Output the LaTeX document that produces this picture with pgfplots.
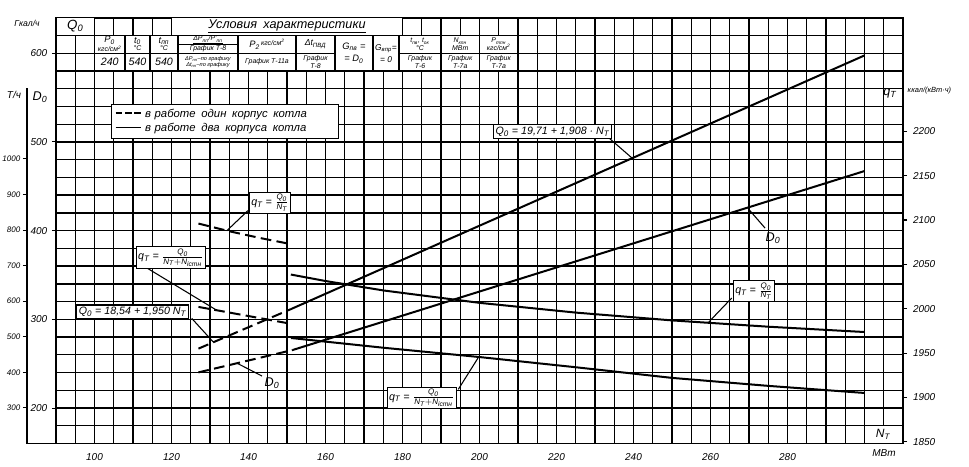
\documentclass[border=0pt]{standalone}
\usepackage{pgfplots}
\pgfplotsset{compat=1.18}
\usepackage{fontspec}
\usepackage{amsmath}
\setmainfont{Liberation Sans}
\tikzset{
  dline/.style={black, line width=1.5pt},
  dashline/.style={black, line width=1.5pt, dash pattern=on 8pt off 4pt},
  lbl/.style={draw=black, fill=white, line width=0.8pt, inner sep=1.5pt, font=\itshape\fontsize{8}{9}\selectfont},
  leader/.style={black, line width=0.8pt},
  cell/.style={fill=white, draw=black, line width=0.9pt},
  tc/.style={align=center, inner sep=0pt, font=\itshape\fontsize{5.2}{5.6}\selectfont},
  tcs/.style={align=center, inner sep=0pt, font=\itshape\fontsize{4.2}{4.7}\selectfont},
}
\pgfplotsset{
  base/.style={scale only axis, width=635.25pt, height=319.35pt,
    at={(0,0)}, anchor=south west, xmin=90, xmax=310,
    /pgf/number format/assume math mode=true,
    /pgf/number format/1000 sep={},
    tick label style={font=\itshape\fontsize{7.5}{9}\selectfont},
  },
}
\begin{document}
\begin{tikzpicture}[font=\itshape]
% ---------- main axis: Q0, Gcal/h ----------
\begin{axis}[base, name=main,
  ymin=160, ymax=640,
  xtick={100,120,...,280},
  ytick={200,300,...,600},
  minor xtick={90,95,...,310},
  minor ytick={160,180,...,640},
  grid=minor,
  minor grid style={black, line width=1pt},
  axis line style={black, line width=1.3pt},
  xtick style={draw=none},
  minor tick length=0pt,
  ytick style={black, line width=0.8pt},
  ytick pos=left,
  tick align=outside, major tick length=3pt,
  xticklabel style={yshift=-1pt},
]
\addplot[dline] coordinates {(151,311.5) (300,597.5)};
\addplot[dashline] coordinates {(127,267) (151,311.5)};
\end{axis}
% ---------- q_T axis, kcal/(kW h) ----------
\begin{axis}[base, ymin=1848, ymax=2328,
  axis x line=none, axis y line*=right,
  axis line style={-, black, line width=1.3pt},
  ytick={1850,1900,...,2200},
  tick align=outside, major tick length=3pt,
  ytick style={black, line width=0.8pt},
  yticklabel style={xshift=1pt},
]
\addplot[dline] coordinates {(151,2038.5) (160,2031.2) (175,2020.6) (200,2006.6) (225,1995.6) (250,1986.8) (275,1979.7) (300,1973.7)};
\addplot[dashline] coordinates {(127,2096.0) (135,2087.3) (143,2079.7) (151,2072.8)};
\addplot[dline] coordinates {(151,1967) (175,1956) (200,1945.5) (225,1934) (250,1922) (275,1913) (300,1905)};
\addplot[dashline] coordinates {(127,2002) (151,1983)};
\end{axis}
% ---------- D0 data axis, t/h ----------
\begin{axis}[base, ymin=200, ymax=1397, hide axis]
\addplot[dline] coordinates {(151.5,463) (300,966)};
\addplot[dashline] coordinates {(127,400) (151.5,463)};
\end{axis}
% ---------- D0 scale display ----------
\begin{axis}[scale only axis, width=21.75pt, height=266.8pt,
  at={(main.south west)}, anchor=south east,
  xmin=0, xmax=1, ymin=200, ymax=1200,
  axis x line*=bottom, axis y line*=left,
  axis line style={-, black, line width=1.3pt},
  xtick=\empty, ytick={300,400,...,1000},
  tick align=outside, major tick length=3pt,
  ytick style={black, line width=0.8pt},
  /pgf/number format/assume math mode=true,
  /pgf/number format/1000 sep={},
  tick label style={font=\itshape\fontsize{6}{7}\selectfont},
  yticklabel style={xshift=1.5pt},
]
\end{axis}
% ---------- annotations (pixel frame) ----------
\begin{axis}[base, xmin=56, xmax=903, ymin=17.7, ymax=443.5, y dir=reverse, hide axis, clip=false]
% header table
\filldraw[cell] (axis cs:56,17.7) rectangle (axis cs:94.5,35.4);
\node at (axis cs:75.25,26.5) {\fontsize{10}{10}\selectfont Q\textsubscript{0}};
\filldraw[cell] (axis cs:171.5,17.7) rectangle (axis cs:402.5,35.4);
\node at (axis cs:287,26.5) {\fontsize{9.5}{10}\selectfont\underline{Условия\enspace характеристики}};
% P0
\filldraw[cell] (axis cs:94.5,35.4) rectangle (axis cs:125,53.1);
\filldraw[cell] (axis cs:94.5,53.1) rectangle (axis cs:125,70.8);
\node[tc] at (axis cs:109.75,44.25) {{\fontsize{7}{7}\selectfont P\textsubscript{0}}\\кгс/см\textsuperscript{2}};
\node at (axis cs:109.75,62) {\fontsize{8}{8}\selectfont 240};
% t0
\filldraw[cell] (axis cs:125,35.4) rectangle (axis cs:150,53.1);
\filldraw[cell] (axis cs:125,53.1) rectangle (axis cs:150,70.8);
\node[tc] at (axis cs:137.5,44.25) {{\fontsize{7}{7}\selectfont t\textsubscript{0}}\\°C};
\node at (axis cs:137.5,62) {\fontsize{8}{8}\selectfont 540};
% tpp
\filldraw[cell] (axis cs:150,35.4) rectangle (axis cs:178,53.1);
\filldraw[cell] (axis cs:150,53.1) rectangle (axis cs:178,70.8);
\node[tc] at (axis cs:164,44.25) {{\fontsize{7}{7}\selectfont t\textsubscript{пп}}\\°C};
\node at (axis cs:164,62) {\fontsize{8}{8}\selectfont 540};
% dP
\filldraw[cell] (axis cs:178,35.4) rectangle (axis cs:238,44.25);
\filldraw[cell] (axis cs:178,44.25) rectangle (axis cs:238,53.1);
\filldraw[cell] (axis cs:178,53.1) rectangle (axis cs:238,70.8);
\node[tc] at (axis cs:208,39.8) {\underline{ΔP\textsubscript{пп}/P'\textsubscript{пп}}};
\node[tc] at (axis cs:208,48.7) {График Т-8};
\node[tcs] at (axis cs:208,62) {ΔP\textsubscript{пп}–по графику\\Δt\textsubscript{пп}–по графику};
% P2
\filldraw[cell] (axis cs:238,35.4) rectangle (axis cs:296,53.1);
\filldraw[cell] (axis cs:238,53.1) rectangle (axis cs:296,70.8);
\node[tc] at (axis cs:267,44.25) {{\fontsize{7}{7}\selectfont P\textsubscript{2}}\,\raisebox{2pt}{кгс/см\textsuperscript{2}}};
\node[tc] at (axis cs:267,62) {График Т-11а};
% dt
\filldraw[cell] (axis cs:296,35.4) rectangle (axis cs:335,53.1);
\filldraw[cell] (axis cs:296,53.1) rectangle (axis cs:335,70.8);
\node[tc] at (axis cs:315.5,44.25) {{\fontsize{6.5}{7}\selectfont Δt\textsubscript{ПВД}}};
\node[tc] at (axis cs:315.5,62) {График\\Т-8};
% Gpv
\filldraw[cell] (axis cs:335,35.4) rectangle (axis cs:373,70.8);
\node[align=center, inner sep=0pt, font=\itshape\fontsize{7}{9}\selectfont] at (axis cs:354,53.1) {G\textsubscript{пв} =\\= D\textsubscript{0}};
% Gvpr
\filldraw[cell] (axis cs:373,35.4) rectangle (axis cs:399,70.8);
\node[align=center, inner sep=0pt, font=\itshape\fontsize{6.3}{9}\selectfont] at (axis cs:386,53.1) {G\textsubscript{впр}=\\= 0};
% tpv
\filldraw[cell] (axis cs:399,35.4) rectangle (axis cs:441,53.1);
\filldraw[cell] (axis cs:399,53.1) rectangle (axis cs:441,70.8);
\node[tc] at (axis cs:420,44.25) {t\textsubscript{пв}, t\textsubscript{ок}\\°C};
\node[tc] at (axis cs:420,62) {График\\Т-6};
% N
\filldraw[cell] (axis cs:441,35.4) rectangle (axis cs:479.5,53.1);
\filldraw[cell] (axis cs:441,53.1) rectangle (axis cs:479.5,70.8);
\node[tc] at (axis cs:460.25,44.25) {N\textsubscript{кпн}\\МВт};
\node[tc] at (axis cs:460.25,62) {График\\Т-7а};
% Ptpn
\filldraw[cell] (axis cs:479.5,35.4) rectangle (axis cs:518,53.1);
\filldraw[cell] (axis cs:479.5,53.1) rectangle (axis cs:518,70.8);
\node[tc] at (axis cs:498.75,44.25) {P\textsubscript{тпн}\\кгс/см\textsuperscript{2}};
\node[tc] at (axis cs:498.75,62) {График\\Т-7а};
% axis headers
\node at (axis cs:27,23) {\fontsize{6.5}{7}\selectfont Гкал/ч};
\node at (axis cs:14,95) {\fontsize{7.5}{8}\selectfont Т/ч};
\node at (axis cs:40,97) {\fontsize{9.5}{10}\selectfont D\textsubscript{0}};
\node at (axis cs:890,93) {\fontsize{9.5}{10}\selectfont q\textsubscript{Т}};
\node[anchor=west] at (axis cs:903,91) {\fontsize{5.6}{6}\selectfont ккал/(кВт·ч)};
\filldraw[cell] (axis cs:864.5,425.8) rectangle (axis cs:903,443.5);
\node at (axis cs:883,434.5) {\fontsize{9}{9}\selectfont N\textsubscript{Т}};
\node at (axis cs:884,453) {\fontsize{7.5}{8}\selectfont МВт};
% legend
\node[draw=black, fill=white, line width=0.9pt, inner sep=3pt, text width=164pt, align=left,
  font=\itshape\fontsize{8.5}{11}\selectfont] at (axis cs:225,121.5)
  {\rule[0.6ex]{5pt}{1pt}\hspace{2pt}\rule[0.6ex]{5pt}{1pt}\hspace{2pt}\rule[0.6ex]{5pt}{1pt}\hspace{3pt}в работе\enspace один\enspace корпус\enspace котла\\
   \rule[0.6ex]{19pt}{1pt}\hspace{3pt}в работе\enspace два\enspace корпуса\enspace котла};
% curve labels
\draw[leader] (axis cs:609,138) -- (axis cs:632,158);
\node[lbl] at (axis cs:552.5,131.5) {Q\textsubscript{0} = 19,71 + 1,908 · N\textsubscript{Т}};
\draw[leader] (axis cs:765,228) -- (axis cs:748,208.4);
\node at (axis cs:773,238) {\fontsize{9.5}{10}\selectfont D\textsubscript{0}};
\draw[leader] (axis cs:731.7,298) -- (axis cs:708.3,322.5);
\node[lbl] at (axis cs:754,291) {q\textsubscript{Т} = $\frac{\text{Q\textsubscript{0}}}{\text{N\textsubscript{Т}}}$};
\draw[leader] (axis cs:458.3,389.3) -- (axis cs:478.3,357.5);
\node[lbl] at (axis cs:421.7,397.7) {q\textsubscript{Т} = $\frac{\text{Q\textsubscript{0}}}{\text{N\textsubscript{Т}}+\text{N\textsubscript{iстн}}}$};
\draw[leader] (axis cs:248,210.5) -- (axis cs:226.7,230.8);
\node[lbl] at (axis cs:270,202.8) {q\textsubscript{Т} = $\frac{\text{Q\textsubscript{0}}}{\text{N\textsubscript{Т}}}$};
\draw[leader] (axis cs:142,265) -- (axis cs:216.7,310.2);
\node[lbl] at (axis cs:170.8,257.5) {q\textsubscript{Т} = $\frac{\text{Q\textsubscript{0}}}{\text{N\textsubscript{Т}}+\text{N\textsubscript{iстн}}}$};
\draw[leader] (axis cs:191.7,318.3) -- (axis cs:213.3,342);
\node[lbl] at (axis cs:132.5,311.7) {Q\textsubscript{0} = 18,54 + 1,950 N\textsubscript{Т}};
\draw[leader] (axis cs:262,376) -- (axis cs:236.7,363);
\node at (axis cs:272,383) {\fontsize{9.5}{10}\selectfont D\textsubscript{0}};
\end{axis}
\pgfresetboundingbox
\path ([shift={(-42pt,-16.9pt)}]main.south west) rectangle ([shift={(49.5pt,13.3pt)}]main.north east);
\end{tikzpicture}
\end{document}
